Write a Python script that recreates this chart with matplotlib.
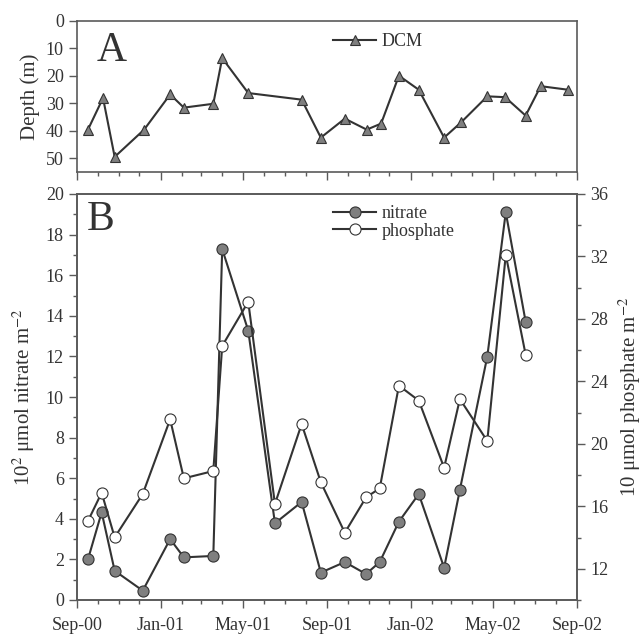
import matplotlib
matplotlib.use("Agg")
import matplotlib.pyplot as plt
import matplotlib.dates as mdates
import pandas as pd

plt.rcParams['font.family'] = ['Liberation Serif', 'DejaVu Serif']
plt.rcParams['mathtext.fontset'] = 'stix'

# ---- data ----
dcm_dates = ["2000-09-17", "2000-10-09", "2000-10-26", "2000-12-08", "2001-01-15",
             "2001-02-04", "2001-03-19", "2001-04-01", "2001-05-09", "2001-07-26",
             "2001-08-23", "2001-09-27", "2001-10-29", "2001-11-19", "2001-12-15",
             "2002-01-13", "2002-02-19", "2002-03-16", "2002-04-23", "2002-05-19",
             "2002-06-18", "2002-07-10", "2002-08-19"]
dcm_depth = [39.6, 28.1, 49.5, 39.6, 26.8, 31.6, 30.2, 13.6, 26.3, 28.7,
             42.5, 35.6, 39.6, 37.4, 20.0, 25.1, 42.5, 36.9, 27.5, 27.8,
             34.5, 23.8, 25.1]

nut_dates = ["2000-09-17", "2000-10-07", "2000-10-26", "2000-12-06", "2001-01-15",
             "2001-02-04", "2001-03-19", "2001-04-01", "2001-05-09", "2001-06-17",
             "2001-07-26", "2001-08-23", "2001-09-27", "2001-10-28", "2001-11-17",
             "2001-12-15", "2002-01-13", "2002-02-19", "2002-03-14", "2002-04-23",
             "2002-05-20", "2002-06-18"]
nitrate = [2.0, 4.32, 1.44, 0.46, 3.0, 2.1, 2.17, 17.29, 13.27, 3.78,
           4.83, 1.35, 1.87, 1.28, 1.87, 3.86, 5.22, 1.59, 5.43, 11.99,
           19.1, 13.71]
phosphate = [15.06, 16.87, 14.01, 16.79, 21.57, 17.79, 18.26, 26.27, 29.1, 16.15,
             21.27, 17.54, 14.31, 16.57, 17.15, 23.73, 22.77, 18.47, 22.87, 20.18,
             32.11, 25.71]

x_start, x_end = "2000-09-01", "2002-09-01"

line_c = '#333333'
spine_c = '#5a5a5a'
text_c = '#333333'
fill_c = '#7f7f7f'

fig = plt.figure(figsize=(6.43, 6.37), dpi=100)
W, H = 643, 637
axA = fig.add_axes([77 / W, 1 - 172 / H, 500 / W, (172 - 20.7) / H])
axB = fig.add_axes([77 / W, 1 - 600 / H, 500 / W, (600 - 194) / H])
axB2 = axB.twinx()

dA = pd.to_datetime(dcm_dates)
dN = pd.to_datetime(nut_dates)
x0, x1 = pd.Timestamp(x_start), pd.Timestamp(x_end)

# Panel A
axA.plot(dA, dcm_depth, color=line_c, lw=1.5, marker='^', ms=7.5,
         mfc=fill_c, mec=line_c, mew=0.8, label='DCM')
axA.set_ylim(55, 0)
axA.set_xlim(x0, x1)
axA.set_yticks([0, 10, 20, 30, 40, 50])
axA.set_ylabel('Depth (m)', fontsize=15, color=text_c, labelpad=4)
axA.text(0.04, 0.93, 'A', transform=axA.transAxes, fontsize=30,
         va='top', ha='left', color=text_c)
axA.legend(loc='upper left', bbox_to_anchor=(0.49, 0.99), frameon=False,
           fontsize=13, handlelength=2.4, handletextpad=0.3, borderaxespad=0.2,
           labelcolor=text_c)

# Panel B
axB.plot(dN, nitrate, color=line_c, lw=1.5, marker='o', ms=8,
         mfc=fill_c, mec=line_c, mew=0.8, label='nitrate', zorder=3)
axB2.plot(dN, phosphate, color=line_c, lw=1.5, marker='o', ms=8,
          mfc='white', mec=line_c, mew=0.8, label='phosphate', zorder=3)
axB.set_ylim(0, 20)
axB.set_yticks(range(0, 21, 2))
axB2.set_ylim(10, 36)
axB2.set_yticks([12, 16, 20, 24, 28, 32, 36])
axB.set_xlim(x0, x1)
axB.set_ylabel(r'10$^{2}$ μmol nitrate m$^{-2}$', fontsize=15, color=text_c, labelpad=6)
axB2.set_ylabel(r'10 μmol phosphate m$^{-2}$', fontsize=15, color=text_c, labelpad=6)
axB.text(0.02, 0.985, 'B', transform=axB.transAxes, fontsize=30,
         va='top', ha='left', color=text_c)
h1, l1 = axB.get_legend_handles_labels()
h2, l2 = axB2.get_legend_handles_labels()
axB2.legend(h1 + h2, l1 + l2, loc='upper left', bbox_to_anchor=(0.49, 1.0),
            frameon=False, fontsize=13, handlelength=2.4, handletextpad=0.3,
            labelspacing=0.05, borderaxespad=0.2, labelcolor=text_c)

for ax in (axA, axB):
    ax.xaxis.set_major_locator(mdates.MonthLocator(bymonth=[1, 5, 9]))
    ax.xaxis.set_minor_locator(mdates.MonthLocator())
    ax.xaxis.set_major_formatter(mdates.DateFormatter('%b-%y'))
    ax.tick_params(axis='x', which='major', direction='out', length=6, width=1,
                   color=spine_c, labelsize=13, labelcolor=text_c, pad=6)
    ax.tick_params(axis='x', which='minor', direction='out', length=3, width=1,
                   color=spine_c)
axA.tick_params(axis='x', which='both', labelbottom=False)
axB.yaxis.set_minor_locator(matplotlib.ticker.MultipleLocator(1))
for ax in (axA, axB):
    ax.tick_params(axis='y', which='major', direction='out', length=6, width=1,
                   color=spine_c, labelsize=13, labelcolor=text_c)
    ax.tick_params(axis='y', which='minor', direction='out', length=3, width=1,
                   color=spine_c)
axB2.yaxis.set_minor_locator(matplotlib.ticker.MultipleLocator(2))
axB2.tick_params(axis='y', which='major', direction='out', length=6, width=1,
                 color=spine_c, labelsize=13, labelcolor=text_c)
axB2.tick_params(axis='y', which='minor', direction='out', length=3, width=1,
                 color=spine_c)
for ax in (axA, axB, axB2):
    for s in ax.spines.values():
        s.set_color(spine_c)
        s.set_linewidth(1.2)

fig.savefig('out.png', dpi=100)
